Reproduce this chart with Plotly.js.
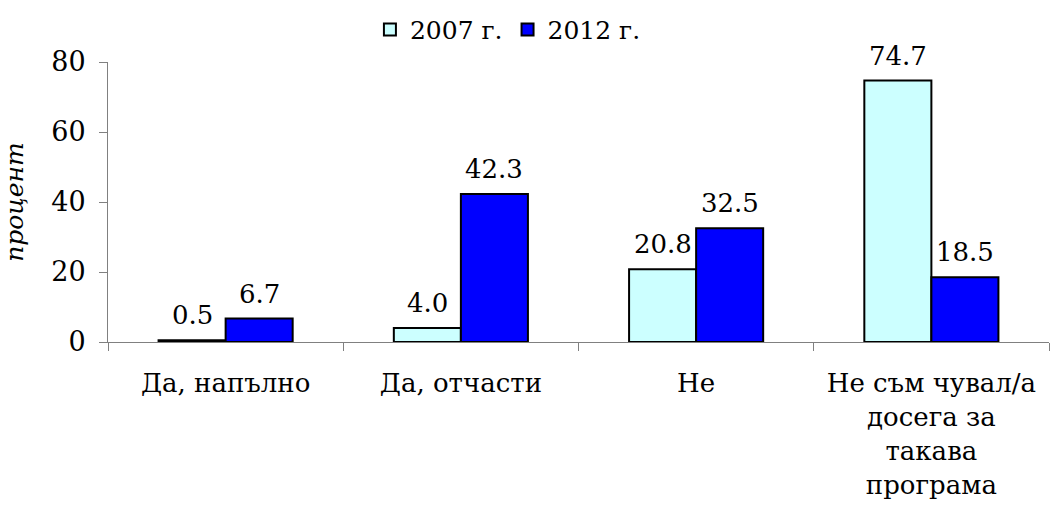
<!DOCTYPE html>
<html>
<head>
<meta charset="utf-8">
<script src="https://cdn.plot.ly/plotly-3.0.1.min.js"></script>
<style>
  html, body { margin: 0; padding: 0; background: #fff; }
  #chart { width: 1050px; height: 506px; }
</style>
</head>
<body>
<div id="chart"></div>
<script>
const categories = [
  "Да, напълно",
  "Да, отчасти",
  "Не",
  "Не съм чувал/а<br>досега за<br>такава<br>програма"
];
const values2007 = [0.5, 4.0, 20.8, 74.7];
const values2012 = [6.7, 42.3, 32.5, 18.5];
const seriesNames = ["2007 г.", "2012 г."];

const FONT = "DejaVu Serif";

function buildTrace(y, name, color) {
  return {
    type: "bar",
    x: categories,
    y,
    name,
    marker: { color, line: { color: "#000", width: 2 } },
    hoverinfo: "x+y"
  };
}

// value labels sit a bit higher above the bars than plotly's "outside" text
function buildLabels(y, shift) {
  return y.map((v, i) => ({
    x: categories[i],
    y: v,
    xref: "x",
    yref: "y",
    text: v.toFixed(1),
    showarrow: false,
    xshift: shift,
    yanchor: "bottom",
    yshift: 8,
    font: { family: FONT, size: 26, color: "#000" }
  }));
}

const traces = [
  buildTrace(values2007, seriesNames[0], "#CCFFFF"),
  buildTrace(values2012, seriesNames[1], "#0000FF")
];

Plotly.newPlot("chart", traces, {
  width: 1050,
  height: 506,
  margin: { t: 62, r: 1, l: 108, b: 164 },
  paper_bgcolor: "#fff",
  plot_bgcolor: "#fff",
  font: { family: FONT, size: 25, color: "#000" },
  barmode: "group",
  bargap: 0.43,
  bargroupgap: 0,
  showlegend: true,
  legend: {
    orientation: "h",
    x: 0.425,
    xanchor: "center",
    y: 1.115,
    yanchor: "middle",
    font: { family: FONT, size: 25 },
    itemwidth: 30,
    traceorder: "normal"
  },
  annotations: buildLabels(values2007, -33.5).concat(buildLabels(values2012, 33.5)),
  xaxis: {
    showline: true,
    linecolor: "#808080",
    linewidth: 1,
    ticks: "outside",
    tickson: "boundaries",
    ticklen: 8,
    tickcolor: "#808080",
    ticklabelstandoff: 18,
    tickfont: { family: FONT, size: 26 }
  },
  yaxis: {
    range: [0, 80],
    dtick: 20,
    showgrid: false,
    zeroline: false,
    showline: true,
    linecolor: "#808080",
    ticks: "outside",
    ticklen: 8,
    tickcolor: "#808080",
    ticklabelstandoff: 8,
    tickfont: { family: FONT, size: 27 },
    title: { text: "<i>процент</i>", font: { family: FONT, size: 25 }, standoff: 20 }
  }
}, { displayModeBar: false });
</script>
</body>
</html>
